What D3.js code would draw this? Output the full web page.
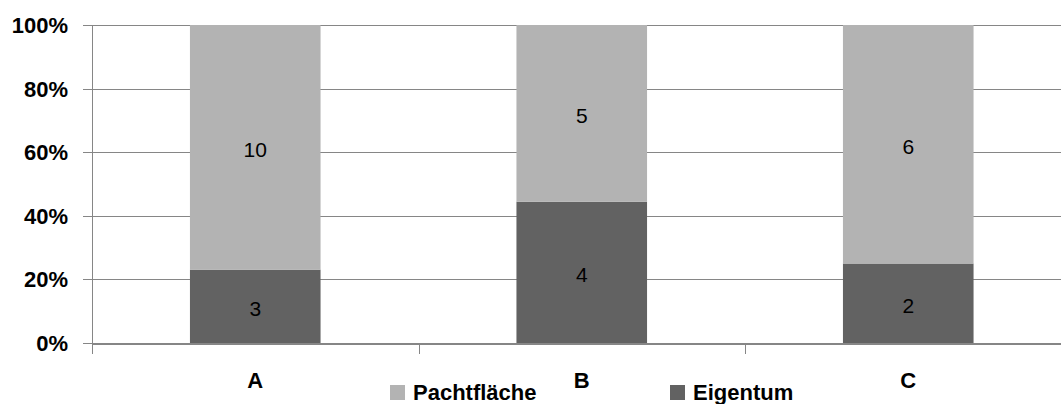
<!DOCTYPE html>
<html>
<head>
<meta charset="utf-8">
<script src="https://cdn.jsdelivr.net/npm/d3@7"></script>
<style>
  html, body { margin: 0; padding: 0; background: #fff; }
  svg { display: block; }
</style>
</head>
<body>
<svg id="chart" width="1061" height="404"></svg>
<script>
// Farm categories and area counts per tenure type
const categories = ["A", "B", "C"];
const eigentum = [3, 4, 2];
const pachtflaeche = [10, 5, 6];
const seriesNames = ["Eigentum", "Pachtfläche"];
const yTickValues = [0, 0.2, 0.4, 0.6, 0.8, 1];

const rows = categories.map((c, i) => ({ cat: c, Eigentum: eigentum[i], "Pachtfläche": pachtflaeche[i] }));

const colors = { "Eigentum": "#626262", "Pachtfläche": "#b3b3b3" };
const gridColor = "#868686";
const fontFamily = "'Liberation Sans', Arial, sans-serif";

const svg = d3.select("#chart");
const W = 1061;

const x = d3.scaleBand()
  .domain(categories)
  .range([92, 1071.5])
  .paddingInner(0.6)
  .paddingOuter(0.3);

const y = d3.scaleLinear().domain([0, 1]).range([343, 25]);

const stack = d3.stack().keys(seriesNames).offset(d3.stackOffsetExpand);
const stacked = stack(rows);

// horizontal gridlines
svg.append("g")
  .selectAll("line")
  .data(yTickValues.filter(v => v > 0))
  .join("line")
  .attr("x1", 92).attr("x2", W)
  .attr("y1", d => Math.round(y(d)) + 0.5).attr("y2", d => Math.round(y(d)) + 0.5)
  .attr("stroke", gridColor).attr("stroke-width", 1);

// stacked bars
const layers = svg.append("g")
  .selectAll("g")
  .data(stacked)
  .join("g")
  .attr("fill", d => colors[d.key]);

layers.selectAll("rect")
  .data(d => d)
  .join("rect")
  .attr("x", d => x(d.data.cat))
  .attr("width", x.bandwidth())
  .attr("y", d => y(d[1]))
  .attr("height", d => y(d[0]) - y(d[1]));

// value labels inside segments
svg.append("g")
  .selectAll("g")
  .data(stacked)
  .join("g")
  .selectAll("text")
  .data(d => d.map(s => ({ s, key: d.key })))
  .join("text")
  .attr("x", d => x(d.s.data.cat) + x.bandwidth() / 2)
  .attr("y", d => (y(d.s[0]) + y(d.s[1])) / 2 + 4)
  .attr("text-anchor", "middle")
  .attr("dominant-baseline", "middle")
  .attr("font-family", fontFamily)
  .attr("font-size", 21)
  .attr("fill", "#000")
  .text(d => d.s.data[d.key]);

// y axis line and ticks
svg.append("line")
  .attr("x1", 92.5).attr("x2", 92.5).attr("y1", 25).attr("y2", 343)
  .attr("stroke", gridColor);

svg.append("g")
  .selectAll("line")
  .data(yTickValues)
  .join("line")
  .attr("x1", 83).attr("x2", 92)
  .attr("y1", d => Math.round(y(d)) + 0.5).attr("y2", d => Math.round(y(d)) + 0.5)
  .attr("stroke", gridColor);

svg.append("g")
  .selectAll("text")
  .data(yTickValues)
  .join("text")
  .attr("x", 68)
  .attr("y", d => y(d) + 8)
  .attr("text-anchor", "end")
  .attr("font-family", fontFamily)
  .attr("font-weight", "bold")
  .attr("font-size", 22)
  .attr("fill", "#000")
  .text(d => d3.format(".0%")(d));

// x axis line
svg.append("line")
  .attr("x1", 92).attr("x2", W).attr("y1", 344).attr("y2", 344)
  .attr("stroke", gridColor).attr("stroke-width", 2);

// category boundary ticks
const boundaries = categories.map(c => x(c) - x.step() * x.paddingOuter());
svg.append("g")
  .selectAll("line")
  .data(boundaries)
  .join("line")
  .attr("x1", d => Math.round(d) + 0.5).attr("x2", d => Math.round(d) + 0.5)
  .attr("y1", 343).attr("y2", 354)
  .attr("stroke", gridColor);

// category labels
svg.append("g")
  .selectAll("text")
  .data(categories)
  .join("text")
  .attr("x", d => x(d) + x.bandwidth() / 2)
  .attr("y", 388)
  .attr("text-anchor", "middle")
  .attr("font-family", fontFamily)
  .attr("font-weight", "bold")
  .attr("font-size", 22)
  .attr("fill", "#000")
  .text(d => d);

// legend
const legendItems = [
  { name: "Pachtfläche", x: 390 },
  { name: "Eigentum", x: 670 }
];
const lg = svg.append("g")
  .selectAll("g")
  .data(legendItems)
  .join("g")
  .attr("transform", d => `translate(${d.x},0)`);
lg.append("rect")
  .attr("x", 0).attr("y", 385).attr("width", 15).attr("height", 15)
  .attr("fill", d => colors[d.name]);
lg.append("text")
  .attr("x", 23).attr("y", 400)
  .attr("font-family", fontFamily)
  .attr("font-weight", "bold")
  .attr("font-size", 22)
  .attr("fill", "#000")
  .text(d => d.name);
</script>
</body>
</html>
